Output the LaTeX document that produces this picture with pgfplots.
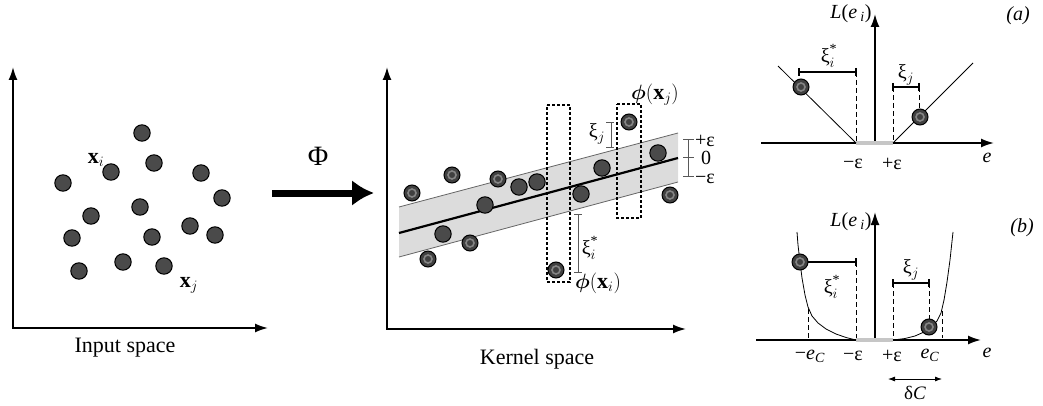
\documentclass[border=0pt]{standalone}
\usepackage{amsmath}
\usepackage{fontspec}
\setmainfont{Liberation Serif}
\usepackage{pgfplots}
\pgfplotsset{compat=1.18}
\usetikzlibrary{arrows.meta}
\definecolor{dotfill}{HTML}{4A4A4A}
\definecolor{bandfill}{HTML}{DCDCDC}
\newcommand{\xistar}[1]{$\text{ξ}^{\text{*}}_{#1}$}
\newcommand{\xisub}[1]{$\text{ξ}_{#1}$}
\begin{document}
\begin{tikzpicture}[every node/.append style={font=\fontsize{20}{24}\selectfont, inner sep=0pt}]
\begin{axis}[
  width=1043pt, height=406pt, scale only axis,
  xmin=0, xmax=1043, ymin=0, ymax=406, y dir=reverse,
  hide axis, clip=false,
  plain/.style={only marks, mark=*, mark size=8.2pt, mark options={fill=dotfill, draw=black, line width=1pt}},
  ringo/.style={only marks, mark=*, mark size=8pt, mark options={fill=black!75, draw=black, line width=1pt}},
  ringi/.style={only marks, mark=o, mark size=4pt, mark options={draw=black!48, line width=1.6pt}},
  ax/.style={line width=1.8pt, black, -{Latex[length=13pt,width=9pt]}},
  dsh/.style={black, line width=0.9pt, dash pattern=on 5pt off 3pt},
  dbox/.style={black, line width=1.3pt, dash pattern=on 3pt off 2pt},
]
% frame that fixes the picture's extent
\addplot[draw=none, forget plot] coordinates {(0,0) (1043,0) (1043,406) (0,406) (0,0)};
% ---------------- Input space ----------------
\addplot[ax] coordinates {(13,328) (13,67)};
\addplot[ax] coordinates {(12,328) (268,328)};
\addplot[plain] coordinates {
(142,133) (154,163) (111,172) (201,173) (63,183) (222,198) (140,207) (91,216)
(190,226) (72,238) (152,237) (215,235) (123,262) (164,266) (79,271)};
\node at (axis cs:96,160) {\fontsize{22}{24}\selectfont$\mathbf{x}_{i}$};
\node at (axis cs:189,285) {\fontsize{22}{24}\selectfont$\mathbf{x}_{j}$};
\node at (axis cs:125,348) {\fontsize{22}{24}\selectfont Input space};
% ---------------- Phi arrow ----------------
\addplot[line width=7pt, black, -{Latex[length=22pt,width=26pt]}] coordinates {(272,193) (374,193)};
\node at (axis cs:318,156) {\fontsize{28}{30}\selectfont Φ};
% ---------------- Kernel space ----------------
\addplot[fill=bandfill, draw=none] coordinates {(399,207) (678,133) (678,182) (399,257)} -- cycle;
\addplot[gray!80!black, line width=0.8pt] coordinates {(399,207) (678,133)};
\addplot[gray!80!black, line width=0.8pt] coordinates {(399,257) (678,182)};
\addplot[black, line width=2.2pt] coordinates {(399,233) (678,158)};
\addplot[ax] coordinates {(387,329) (387,67)};
\addplot[ax] coordinates {(386,329) (686,329)};
\addplot[dbox] coordinates {(547,105) (570,105) (570,282) (547,282) (547,105)};
\addplot[dbox] coordinates {(617,104) (641,104) (641,218) (617,218) (617,104)};
\addplot[plain] coordinates {
(443,234) (485,205) (519,187) (537,182) (581,194) (602,168) (658,153)};
\addplot[ringo] coordinates {
(412,193) (452,175) (498,179) (428,259) (470,243) (556,270) (629,122) (670,195)};
\addplot[ringi] coordinates {
(412,193) (452,175) (498,179) (428,259) (470,243) (556,270) (629,122) (670,195)};
% error bars
\addplot[gray!70!black, line width=1pt] coordinates {(611,123) (611,148)};
\addplot[gray!70!black, line width=1pt] coordinates {(606,123) (614,123)};
\addplot[gray!70!black, line width=1pt] coordinates {(606,148) (614,148)};
\addplot[gray!70!black, line width=1pt] coordinates {(578,214) (578,272)};
\addplot[gray!70!black, line width=1pt] coordinates {(574,214) (582,214)};
\addplot[gray!70!black, line width=1pt] coordinates {(574,272) (582,272)};
\addplot[gray!70!black, line width=1pt] coordinates {(688,140) (688,177)};
\addplot[gray!70!black, line width=1pt] coordinates {(683,140) (694,140)};
\addplot[gray!70!black, line width=1pt] coordinates {(683,158) (694,158)};
\addplot[gray!70!black, line width=1pt] coordinates {(683,177) (694,177)};
\node at (axis cs:597,134) {\xisub{j}};
\node at (axis cs:590,248) {\xistar{i}};
\node[anchor=west] at (axis cs:695,141) {+ε};
\node[anchor=west] at (axis cs:701,158) {0};
\node[anchor=west] at (axis cs:695,179) {−ε};
\node at (axis cs:655,95) {\fontsize{22}{24}\selectfont$\boldsymbol{\phi}(\mathbf{x}_{j})$};
\node at (axis cs:598,283) {\fontsize{22}{24}\selectfont$\boldsymbol{\phi}(\mathbf{x}_{i})$};
\node at (axis cs:537,359) {\fontsize{22}{24}\selectfont Kernel space};
% ---------------- Panel (a) ----------------
\addplot[ax] coordinates {(761,143) (994,143)};
\addplot[ax] coordinates {(875,144) (875,14)};
\addplot[gray!45, line width=4pt] coordinates {(856,143) (893,143)};
\addplot[black, line width=0.8pt] coordinates {(778,66) (856,143)};
\addplot[black, line width=0.8pt] coordinates {(893,143) (973,63)};
\addplot[dsh] coordinates {(856,72) (856,141)};
\addplot[dsh] coordinates {(893,87) (893,141)};
\addplot[dsh] coordinates {(919,87) (919,116)};
\addplot[black, line width=1.2pt] coordinates {(799,72) (856,72)};
\addplot[black, line width=1.2pt] coordinates {(799,68) (799,76)};
\addplot[black, line width=1.2pt] coordinates {(856,68) (856,76)};
\addplot[black, line width=1.2pt] coordinates {(893,87) (919,87)};
\addplot[black, line width=1.2pt] coordinates {(893,83) (893,91)};
\addplot[black, line width=1.2pt] coordinates {(919,83) (919,91)};
\addplot[ringo] coordinates {(801,87) (920,117)};
\addplot[ringi] coordinates {(801,87) (920,117)};
\node at (axis cs:851,14) {\textit{L}(\textit{e}\,\textsubscript{\textit{i}})};
\node at (axis cs:1018,16) {\textit{(a)}};
\node at (axis cs:829,56) {\xistar{i}};
\node at (axis cs:906,75) {\xisub{j}};
\node at (axis cs:853,164) {−ε};
\node at (axis cs:892,164) {+ε};
\node at (axis cs:987,158) {\textit{e}};
% ---------------- Panel (b) ----------------
\addplot[ax] coordinates {(756,340) (981,340)};
\addplot[ax] coordinates {(875,341) (875,212)};
\addplot[gray!45, line width=4pt] coordinates {(856,340) (893,340)};
\addplot[black, line width=0.8pt] coordinates {(797,232) (798,245) (800,262) (802,278) (805,295) (808,307) (812,316) (818,323) (826,329) (836,334) (846,337.5) (856,340)};
\addplot[black, line width=0.8pt] coordinates {(893,340) (905,338.5) (915,336) (924,332) (931,327) (937,321) (941,313) (944,300) (947,282) (950,260) (953,232)};
\addplot[dsh] coordinates {(808,309) (808,338)};
\addplot[dsh] coordinates {(856,262) (856,338)};
\addplot[dsh] coordinates {(893,283) (893,338)};
\addplot[dsh] coordinates {(929,283) (929,326)};
\addplot[dsh] coordinates {(942,311) (942,338)};
\addplot[black, line width=1.2pt] coordinates {(800,262) (856,262)};
\addplot[black, line width=1.2pt] coordinates {(856,258) (856,266)};
\addplot[black, line width=1.2pt] coordinates {(893,283) (929,283)};
\addplot[black, line width=1.2pt] coordinates {(893,279) (893,287)};
\addplot[black, line width=1.2pt] coordinates {(929,279) (929,287)};
\addplot[ringo] coordinates {(800,262) (929,327)};
\addplot[ringi] coordinates {(800,262) (929,327)};
\addplot[black, line width=0.8pt, {Latex[length=7pt,width=5pt]}-{Latex[length=7pt,width=5pt]}] coordinates {(888,379) (942,379)};
\node at (axis cs:851,222) {\textit{L}(\textit{e}\,\textsubscript{\textit{i}})};
\node at (axis cs:1022,228) {\textit{(b)}};
\node at (axis cs:832,287) {\xistar{i}};
\node at (axis cs:911,270) {\xisub{j}};
\node at (axis cs:810,356) {−\textit{e}\textsubscript{\textit{C}}};
\node at (axis cs:853,356) {−ε};
\node at (axis cs:892,356) {+ε};
\node at (axis cs:930,355) {\textit{e}\textsubscript{\textit{C}}};
\node at (axis cs:987,353) {\textit{e}};
\node at (axis cs:915,393) {\fontsize{19}{22}\selectfont δ\textit{C}};
\end{axis}
\end{tikzpicture}
\end{document}
